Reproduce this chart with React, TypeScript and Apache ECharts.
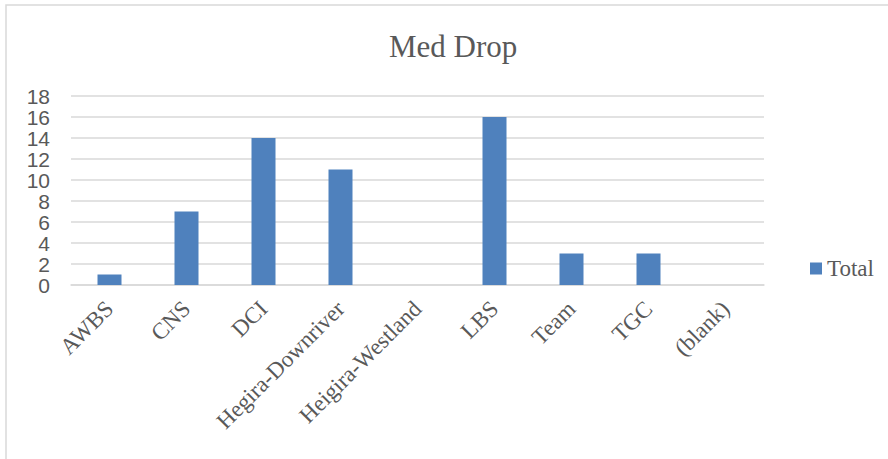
import React, { useEffect, useRef } from "react";
import * as echarts from "echarts";

const categories = [
  "AWBS",
  "CNS",
  "DCI",
  "Hegira-Downriver",
  "Heigira-Westland",
  "LBS",
  "Team",
  "TGC",
  "(blank)",
];
const totalValues: (number | null)[] = [1, 7, 14, 11, null, 16, 3, 3, null];
const seriesName = "Total";
const chartTitle = "Med Drop";

export default function App() {
  const ref = useRef<HTMLDivElement>(null);
  useEffect(() => {
    if (!ref.current) return;
    const chart = echarts.init(ref.current, undefined, { renderer: "svg" });
    const gray = "#595959";
    chart.setOption({
      animation: false,
      backgroundColor: "#ffffff",
      graphic: [
        {
          type: "rect",
          shape: { x: 6, y: 5, width: 1000, height: 600 },
          style: { fill: "none", stroke: "#d9d9d9", lineWidth: 1.5 },
          silent: true,
          z: -1,
        },
      ],
      title: {
        text: chartTitle,
        left: 384,
        top: 26,
        textStyle: {
          fontFamily: "Liberation Serif",
          fontSize: 31,
          fontWeight: "normal",
          color: gray,
        },
      },
      legend: {
        left: 805,
        top: 252,
        itemWidth: 12,
        itemHeight: 12,
        icon: "rect",
        textStyle: {
          fontFamily: "Liberation Serif",
          fontSize: 23,
          color: gray,
        },
        data: [seriesName],
      },
      grid: { left: 71, right: 124, top: 96, bottom: 174 },
      xAxis: {
        type: "category",
        data: categories,
        axisLine: { lineStyle: { color: "#d9d9d9", width: 1.5 } },
        axisTick: { show: false },
        axisLabel: {
          rotate: 45,
          interval: 0,
          margin: 20,
          verticalAlign: "middle",
          fontFamily: "Liberation Serif",
          fontSize: 23,
          color: gray,
        },
      },
      yAxis: {
        type: "value",
        min: 0,
        max: 18,
        interval: 2,
        axisLine: { show: false },
        axisTick: { show: false },
        splitLine: { lineStyle: { color: "#d9d9d9", width: 1.5 } },
        axisLabel: {
          margin: 21,
          showMinLabel: true,
          showMaxLabel: true,
          hideOverlap: false,
          fontFamily: "Liberation Sans",
          fontSize: 21,
          lineHeight: 20,
          color: gray,
        },
      },
      series: [
        {
          name: seriesName,
          type: "bar",
          data: totalValues,
          barWidth: 24,
          itemStyle: { color: "#4F81BD" },
        },
      ],
    });
    return () => chart.dispose();
  }, []);
  return (
    <div
      ref={ref}
      style={{ position: "fixed", left: 0, top: 0, width: 888, height: 459 }}
    />
  );
}
